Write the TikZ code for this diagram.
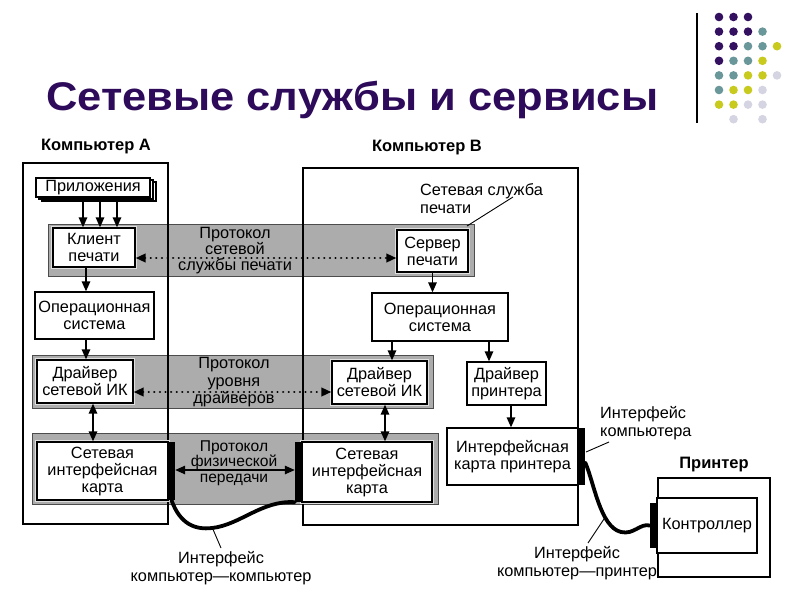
\documentclass[tikz,border=0pt]{standalone}
\usepackage{graphicx}
\usepackage{fontspec}
\setmainfont{Liberation Sans}
\usetikzlibrary{arrows.meta,calc}
\definecolor{ttl}{RGB}{46,10,90}
\definecolor{dP}{RGB}{52,16,96}
\definecolor{dT}{RGB}{106,152,154}
\definecolor{dY}{RGB}{200,202,30}
\definecolor{dL}{RGB}{212,212,226}
\definecolor{bandc}{RGB}{172,172,172}
\newcommand\fsbox{\fontsize{16.3}{17}\selectfont}
\newcommand\fslab{\fontsize{16.3}{18.5}\selectfont}
\begin{document}
\begin{tikzpicture}[x=1pt,y=-1pt,
  box/.style={draw=black, line width=1.3pt, fill=white, inner sep=0pt, align=center, font=\fsbox},
  inbox/.style={box, preaction={draw=gray!25, line width=4pt}},
  frame/.style={draw=black, line width=1.2pt, inner sep=0pt},
  band/.style={draw=black!70, line width=1pt, fill=bandc, inner sep=0pt},
  strip/.style={fill=black, draw=none, inner sep=0pt},
  ptext/.style={inner sep=0pt, align=center},
  lab/.style={inner sep=0pt, font=\fslab},
  blab/.style={inner sep=0pt, font=\fontsize{16.5}{18}\selectfont\bfseries},
  arr/.style={-{Triangle[length=10pt,width=8.5pt]}, line width=1.4pt},
  darr/.style={{Triangle[length=10pt,width=8.5pt]}-{Triangle[length=10pt,width=8.5pt]}, line width=1.4pt},
  dotarr/.style={{Triangle[length=10pt,width=8.5pt]}-{Triangle[length=10pt,width=8.5pt]}, line width=2.3pt, line cap=round, dash pattern=on 0.1pt off 5.5pt},
  cable/.style={line width=3.8pt, line cap=round},
  leader/.style={line width=0.9pt}]
\useasboundingbox (0,0) rectangle (800,600);
\fill[white] (0,0) rectangle (800,600);

% title and decoration
\node[anchor=base west, inner sep=0pt, text=ttl, font=\fontsize{40}{42}\selectfont\bfseries] (title) at (46,110) {\scalebox{1.087}[1]{Сетевые службы и сервисы}};
\draw[line width=1.3pt] (697,13) -- (697,123);
\foreach \c [count=\i from 0] in {P,P,P}{\fill[d\c] (719+14.5*\i,17) circle (4.3);}
\foreach \c [count=\i from 0] in {P,P,P,T}{\fill[d\c] (719+14.5*\i,31.6) circle (4.3);}
\foreach \c [count=\i from 0] in {P,P,T,T,Y}{\fill[d\c] (719+14.5*\i,46.2) circle (4.3);}
\foreach \c [count=\i from 0] in {P,T,T,Y}{\fill[d\c] (719+14.5*\i,60.8) circle (4.3);}
\foreach \c [count=\i from 0] in {T,T,Y,Y,L}{\fill[d\c] (719+14.5*\i,75.4) circle (4.3);}
\foreach \c [count=\i from 0] in {T,Y,Y,L}{\fill[d\c] (719+14.5*\i,90) circle (4.3);}
\foreach \c [count=\i from 0] in {Y,Y,L,L}{\fill[d\c] (719+14.5*\i,104.6) circle (4.3);}
\fill[dL] (733.5,119.2) circle (4.3);
\fill[dL] (762.5,119.2) circle (4.3);

% headings
\node[blab, anchor=base] (hA) at (96,150.5) {Компьютер А};
\node[blab, anchor=base] (hB) at (427,151.5) {Компьютер В};
\node[blab, anchor=base] (hP) at (714,468.5) {Принтер};

% protocol bands
\node[band, minimum width=426, minimum height=52] (band1) at (261,250) {};
\node[band, minimum width=401, minimum height=53] (band2) at (232.5,381.5) {};
\node[band, minimum width=406, minimum height=71] (band3) at (235,468.5) {};

% computer frames
\node[frame, minimum width=145, minimum height=361] (compA) at (95.5,343.5) {};
\node[frame, minimum width=275, minimum height=357] (compB) at (440.5,346.5) {};
\node[frame, minimum width=112, minimum height=99] (prn) at (714,527.5) {};

% applications stack
\node[box, minimum width=114, minimum height=19] (app3) at (99,191.5) {};
\node[box, minimum width=114, minimum height=19] (app2) at (96,189.5) {};
\node[box, minimum width=114, minimum height=19] (apps) at (93,187.5) {Приложения};

% computer A
\node[inbox, minimum width=82, minimum height=39] (clientA) at (94,247.5) {Клиент\\печати};
\node[box, minimum width=119, minimum height=47] (osA) at (94.5,315.5) {Операционная\\система};
\node[inbox, minimum width=96, minimum height=43] (drvA) at (85,381.5) {Драйвер\\сетевой ИК};
\node[inbox, minimum width=131, minimum height=58] (nicA) at (102.5,471) {Сетевая\\интерфейсная\\карта};
\node[strip, minimum width=7, minimum height=58] (stripA) at (171.5,471) {};

% computer B
\node[inbox, minimum width=71, minimum height=42] (server) at (432.5,251) {Сервер\\печати};
\node[box, minimum width=136, minimum height=48] (osB) at (440,317) {Операционная\\система};
\node[inbox, minimum width=95, minimum height=43] (drvB) at (379.5,382.5) {Драйвер\\сетевой ИК};
\node[box, minimum width=79, minimum height=43] (prnDrv) at (506.5,383.5) {Драйвер\\принтера};
\node[inbox, minimum width=130, minimum height=60] (nicB) at (367,472) {Сетевая\\интерфейсная\\карта};
\node[strip, minimum width=7, minimum height=60] (stripB) at (298.5,472) {};
\node[box, minimum width=131, minimum height=57] (prnCard) at (512.5,456.5) {Интерфейсная\\карта принтера};
\node[strip, minimum width=7, minimum height=57] (stripP) at (581.5,456.5) {};

% printer
\node[box, minimum width=100, minimum height=55] (ctrl) at (707,525.5) {Контроллер};
\node[strip, minimum width=7, minimum height=45] (stripC) at (653.5,525.5) {};

% protocol texts
\node[ptext, font=\fontsize{16.3}{16}\selectfont] (p1) at (235,251) {Протокол\\сетевой\\службы печати};
\node[ptext, font=\fontsize{16.3}{17.5}\selectfont] (p2) at (234,382.5) {Протокол\\уровня\\драйверов};
\node[ptext, font=\fontsize{15.6}{15.3}\selectfont] (p3) at (234,463) {Протокол\\физической\\передачи};

% arrows
\coordinate (d1) at (0,258);
\coordinate (d2) at (0,392);
\coordinate (d3) at (0,470);
\draw[dotarr] (clientA.east |- d1) -- (server.west |- d1);
\draw[dotarr] (drvA.east |- d2) -- (drvB.west |- d2);
\draw[darr] (stripA.east |- d3) -- (stripB.west |- d3);

\coordinate (xa1) at (83,0);
\coordinate (xa2) at (100,0);
\coordinate (xa3) at (117,0);
\draw[arr] (app3.south -| xa1) -- (clientA.north -| xa1);
\draw[arr] (app3.south -| xa2) -- (clientA.north -| xa2);
\draw[arr] (app3.south -| xa3) -- (clientA.north -| xa3);
\coordinate (xa4) at (86,0);
\draw[arr] (clientA.south -| xa4) -- (osA.north -| xa4);
\draw[arr] (osA.south -| xa4) -- (drvA.north -| xa4);
\coordinate (xa5) at (93,0);
\draw[darr] (drvA.south -| xa5) -- (nicA.north -| xa5);

\draw[arr] (server.south) -- (server.south |- osB.north);
\coordinate (xb1) at (392,0);
\coordinate (xb2) at (489,0);
\coordinate (xb3) at (511,0);
\coordinate (xb4) at (385,0);
\draw[arr] (osB.south -| xb1) -- (drvB.north -| xb1);
\draw[arr] (osB.south -| xb2) -- (prnDrv.north -| xb2);
\draw[arr] (prnDrv.south -| xb3) -- (prnCard.north -| xb3);
\draw[darr] (drvB.south -| xb4) -- (nicB.north -| xb4);

% cables
\draw[cable] (stripA.south) .. controls (180,524) and (195,530) .. (212,528) .. controls (240,525) and (262,500) .. (stripB.south west);
\draw[cable] ([yshift=-6pt]stripP.east) .. controls (594,482) and (600,527) .. (621,532) .. controls (634,535) and (640,523) .. (stripC.west);

% labels with leaders
\node[lab, anchor=north west, align=left] (lsvc) at (420,183) {Сетевая служба\\печати};
\draw[leader] (513,197) -- (467,226);
\node[lab, anchor=north west, align=left] (lif1) at (600,406) {Интерфейс\\компьютера};
\draw[leader] (609,442) -- (586,452);
\node[lab, anchor=north, align=center] (lif2) at (221,551) {Интерфейс\\компьютер—компьютер};
\draw[leader] (212,527) -- (221,548);
\node[lab, anchor=north, align=center] (lif3) at (577,546) {Интерфейс\\компьютер—принтер};
\draw[leader] (604,519) -- (588,543);
\end{tikzpicture}
\end{document}
